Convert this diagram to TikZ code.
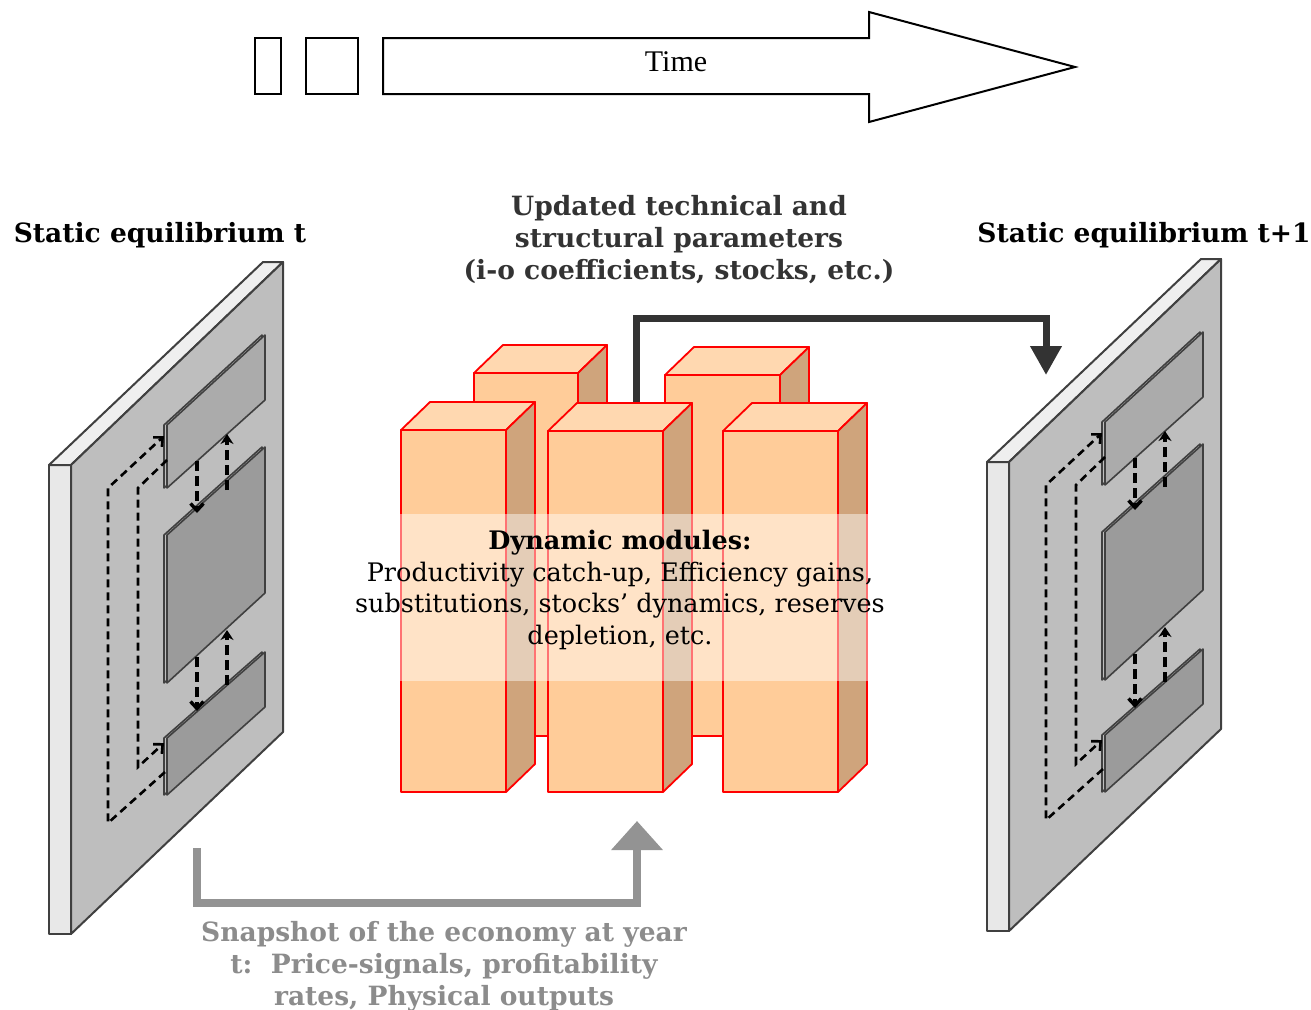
\documentclass[tikz,border=0pt]{standalone}
\usepackage{fontspec}
\setmainfont{DejaVu Serif}
\newfontfamily\timefont{Liberation Serif}
\usetikzlibrary{arrows.meta,positioning}

\definecolor{panelgray}{HTML}{BEBEBE}
\definecolor{stripgray}{HTML}{E8E8E8}
\definecolor{panelline}{HTML}{404040}
\definecolor{platelight}{HTML}{ABABAB}
\definecolor{platedark}{HTML}{9B9B9B}
\definecolor{blockfront}{HTML}{FFCC99}
\definecolor{blocktop}{HTML}{FFD8B0}
\definecolor{blockside}{HTML}{CFA47C}
\definecolor{upddark}{HTML}{333333}
\definecolor{snapgray}{HTML}{939393}
\definecolor{snaptext}{HTML}{8C8C8C}

\begin{document}
\begin{tikzpicture}[x=1pt, y=-1pt,
    panel/.style={draw=panelline, line width=2pt, line join=round},
    plate/.style={draw=panelline, line width=1.6pt, line join=round},
    flow/.style={dash pattern=on 8pt off 5pt, line width=2.6pt, -{Straight Barb[length=7pt, width=13pt]}},
    flowdown/.style={dash pattern=on 10pt off 5pt, line width=3.4pt, -{Straight Barb[length=7pt, width=13pt]}},
    flowup/.style={dash pattern=on 10pt off 5pt, line width=3.4pt, -{Stealth[length=10pt, width=13pt]}},
    block/.style={draw=red, line width=1.8pt, line join=round},
    heading/.style={font=\fontsize{26.5}{32}\selectfont\bfseries, align=center},
    modtext/.style={font=\fontsize{25.5}{31.6}\selectfont, align=center}
    ]
    \useasboundingbox (0,0) rectangle (1311,1009);

    % time line
    \draw[line width=2pt] (255,38) rectangle (281,94);
    \draw[line width=2pt] (306,38) rectangle (358,94);
    \draw[line width=2pt, line join=miter] (383,38) -- (869,38) -- (869,12) -- (1075,67)
        -- (869,122) -- (869,94) -- (383,94) -- cycle;
    \node[font=\timefont\fontsize{30}{36}\selectfont] (time) at (676,62) {Time};

    % the two equilibrium panels
    \foreach \sx/\sy in {0/0, 938/-3} {
    \begin{scope}[shift={(\sx,\sy)}]
        \filldraw[panel, fill=stripgray] (49,465) -- (71,465) -- (71,934) -- (49,934) -- cycle;
        \filldraw[panel, fill=stripgray!70!white] (49,465) -- (263,262) -- (283,262) -- (71,465) -- cycle;
        \filldraw[panel, fill=panelgray] (71,465) -- (283,262) -- (283,732) -- (71,934) -- cycle;

        \filldraw[plate, fill=panelgray] (164,425) -- (262,335) -- (262,400) -- (164,488) -- cycle;
        \filldraw[plate, fill=platelight] (167,425) -- (265,335) -- (265,400) -- (167,488) -- cycle;
        \filldraw[plate, fill=panelgray] (164,535) -- (262,447) -- (262,593) -- (164,683) -- cycle;
        \filldraw[plate, fill=platedark] (167,535) -- (265,447) -- (265,593) -- (167,683) -- cycle;
        \filldraw[plate, fill=panelgray] (164,738) -- (262,652) -- (262,707) -- (164,795) -- cycle;
        \filldraw[plate, fill=platedark] (167,738) -- (265,652) -- (265,707) -- (167,795) -- cycle;

        \draw[flow] (167,460) -- (138,488) -- (138,767) -- (164,743);
        \draw[flow] (165,772) -- (108,823) -- (108,488) -- (164,436);
        \draw[flowdown] (197,461) -- (197,513);
        \draw[flowup] (227,490) -- (227,434);
        \draw[flowdown] (197,657) -- (197,711);
        \draw[flowup] (227,685) -- (227,630);
    \end{scope}
    }

    \node[heading] (eqt) at (160,235) {Static equilibrium t};
    \node[heading] (eqtnext) at (1144,235) {Static equilibrium t+1};

    % updated parameters arrow
    \coordinate (updsrc) at (636,402);
    \coordinate (updtgt) at (1046,375);
    \draw[upddark, line width=7pt, line join=miter, -{Triangle[length=29pt, width=30pt]}]
        (updsrc) -- ++(0,-84) -| (updtgt);
    \node[heading, text=upddark] (upd) at (679,240)
        {Updated technical and\\structural parameters\\(i-o coefficients, stocks, etc.)};

    % dynamic modules
    \foreach \x/\y/\w/\h in {474/373/104/363, 665/375/115/361, 401/430/105/362, 548/431/115/361, 723/431/115/361} {
        \filldraw[block, fill=blockfront] (\x,\y) rectangle ({\x+\w},{\y+\h});
        \filldraw[block, fill=blocktop] (\x,\y) -- ({\x+29},{\y-28}) -- ({\x+\w+29},{\y-28}) -- ({\x+\w},\y) -- cycle;
        \filldraw[block, fill=blockside] ({\x+\w},\y) -- ({\x+\w+29},{\y-28}) -- ({\x+\w+29},{\y+\h-28}) -- ({\x+\w},{\y+\h}) -- cycle;
    }
    \fill[white, opacity=0.45] (400,514) rectangle (871,681);
    \node[modtext] (modules) at (620,590)
        {\textbf{Dynamic modules:}\\Productivity catch-up, Efficiency gains,\\substitutions, stocks’ dynamics, reserves\\depletion, etc.};

    % snapshot arrow
    \coordinate (snapsrc) at (197,848);
    \coordinate (snaptgt) at (637,821);
    \draw[snapgray, line width=8pt, line join=miter, -{Triangle[length=29pt, width=50pt]}]
        (snapsrc) -- ++(0,55) -| (snaptgt);
    \node[heading, text=snaptext] (snap) at (444,966)
        {Snapshot of the economy at year\\t:\ \ Price-signals, profitability\\rates, Physical outputs};
\end{tikzpicture}
\end{document}
